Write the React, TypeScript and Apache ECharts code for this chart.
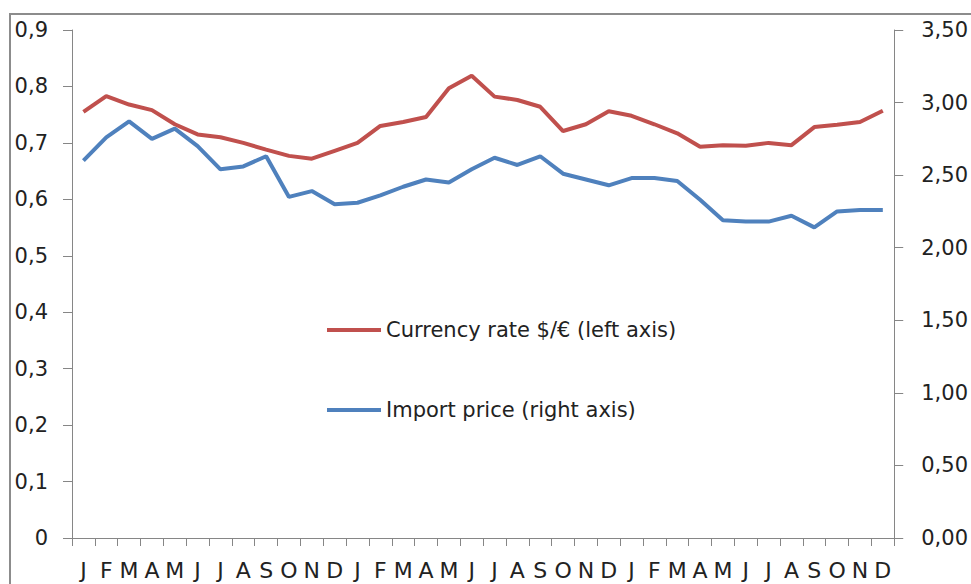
import React, { useEffect, useRef } from "react";
import * as echarts from "echarts";

const months = ["J", "F", "M", "A", "M", "J", "J", "A", "S", "O", "N", "D"];
const categories = [...months, ...months, ...months];

const currencyRate = [
  0.755, 0.783, 0.768, 0.758, 0.733, 0.715, 0.71, 0.7, 0.688, 0.677, 0.672, 0.686,
  0.7, 0.73, 0.737, 0.746, 0.797, 0.819, 0.782, 0.776, 0.764, 0.721, 0.733, 0.756,
  0.748, 0.733, 0.717, 0.693, 0.696, 0.695, 0.7, 0.696, 0.728, 0.732, 0.737, 0.757,
];

const importPrice = [
  2.6, 2.76, 2.87, 2.75, 2.82, 2.7, 2.54, 2.56, 2.63, 2.35, 2.39, 2.3,
  2.31, 2.36, 2.42, 2.47, 2.45, 2.54, 2.62, 2.57, 2.63, 2.51, 2.47, 2.43,
  2.48, 2.48, 2.46, 2.33, 2.19, 2.18, 2.18, 2.22, 2.14, 2.25, 2.26, 2.26,
];

const seriesNames = ["Currency rate $/€ (left axis)", "Import price (right axis)"];
const colors = ["#C0504D", "#4F81BD"];

const FONT = "DejaVu Sans";
const AXIS_GRAY = "#868686";

export default function App() {
  const ref = useRef<HTMLDivElement>(null);

  useEffect(() => {
    if (!ref.current) return;
    const chart = echarts.init(ref.current, null, { renderer: "svg" });
    const labelStyle = {
      fontFamily: FONT,
      fontSize: 21,
      color: "#222",
    };
    chart.setOption({
      animation: false,
      backgroundColor: "#fff",
      grid: { left: 72, right: 76, top: 30, bottom: 46, containLabel: false },
      graphic: [
        {
          type: "rect",
          shape: { x: 10, y: 14, width: 975, height: 590 },
          style: { fill: "none", stroke: "#8c8c8c", lineWidth: 2 },
          silent: true,
        },
      ],
      legend: [
        {
          data: [seriesNames[0]],
          left: 327,
          top: 317,
          padding: 0,
          icon: "rect",
          itemWidth: 54,
          itemHeight: 4,
          textStyle: { ...labelStyle, lineHeight: 26 },
        },
        {
          data: [seriesNames[1]],
          left: 327,
          top: 397,
          padding: 0,
          icon: "rect",
          itemWidth: 54,
          itemHeight: 4,
          textStyle: { ...labelStyle, lineHeight: 26 },
        },
      ],
      xAxis: {
        type: "category",
        data: categories,
        boundaryGap: true,
        axisLine: { lineStyle: { color: AXIS_GRAY, width: 1 } },
        axisTick: { show: true, length: 8, alignWithLabel: false, lineStyle: { color: AXIS_GRAY } },
        axisLabel: { ...labelStyle, fontSize: 22, interval: 0, margin: 21 },
        splitLine: { show: false },
      },
      yAxis: [
        {
          type: "value",
          min: 0,
          max: 0.9,
          interval: 0.1,
          position: "left",
          axisLine: { show: true, lineStyle: { color: AXIS_GRAY } },
          axisTick: { show: true, length: 9, lineStyle: { color: AXIS_GRAY } },
          splitLine: { show: false },
          axisLabel: {
            ...labelStyle,
            margin: 24,
            formatter: (v: number) => (v === 0 ? "0" : v.toFixed(1).replace(".", ",")),
          },
        },
        {
          type: "value",
          min: 0,
          max: 3.5,
          interval: 0.5,
          position: "right",
          axisLine: { show: true, lineStyle: { color: AXIS_GRAY } },
          axisTick: { show: true, length: 9, lineStyle: { color: AXIS_GRAY } },
          splitLine: { show: false },
          axisLabel: {
            ...labelStyle,
            margin: 27,
            formatter: (v: number) => v.toFixed(2).replace(".", ","),
          },
        },
      ],
      series: [
        {
          name: seriesNames[0],
          type: "line",
          yAxisIndex: 0,
          data: currencyRate,
          showSymbol: false,
          symbol: "none",
          lineStyle: { color: colors[0], width: 4 },
          itemStyle: { color: colors[0] },
        },
        {
          name: seriesNames[1],
          type: "line",
          yAxisIndex: 1,
          data: importPrice,
          showSymbol: false,
          symbol: "none",
          lineStyle: { color: colors[1], width: 4 },
          itemStyle: { color: colors[1] },
        },
      ],
    });
    return () => chart.dispose();
  }, []);

  return (
    <div
      ref={ref}
      style={{ position: "fixed", left: 0, top: 0, width: 971, height: 584 }}
    />
  );
}
